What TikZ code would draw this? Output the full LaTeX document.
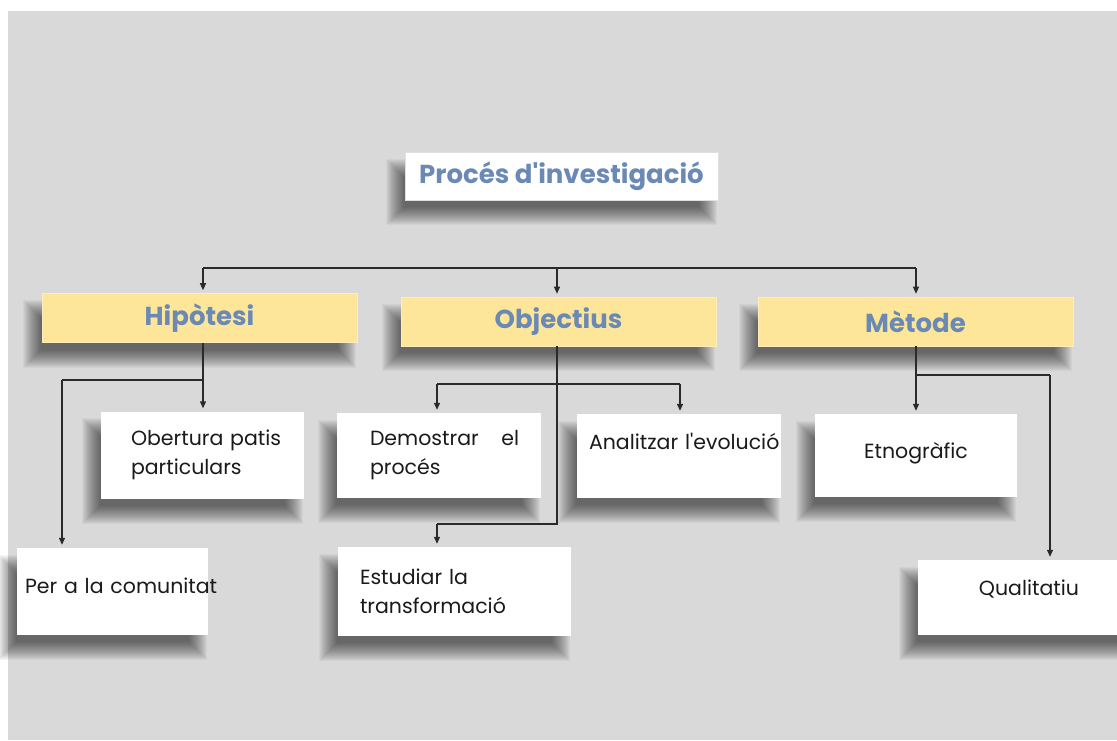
\documentclass[tikz,border=0pt]{standalone}
\usepackage{fontspec}
\setmainfont{Poppins}
\usetikzlibrary{arrows.meta}
\definecolor{bg}{HTML}{D9D9D9}
\definecolor{hd}{HTML}{FDE69A}
\definecolor{hdtxt}{HTML}{6A89B4}
\definecolor{ln}{HTML}{2A2A2A}
\definecolor{txt}{HTML}{1A1A1A}
\pgfdeclarelayer{bgfill}
\pgfdeclarelayer{shadowlayer}
\pgfsetlayers{bgfill,shadowlayer,main}
\begin{document}
\begin{tikzpicture}[x=1pt,y=-1pt,
  box/.style={fill=white, inner ysep=0pt, text=txt, font=\fontsize{20.5}{29}\selectfont, align=left},
  head/.style={fill=hd, draw=hd!70!white, line width=0.6pt, minimum width=315pt, minimum height=49pt, text=hdtxt, font=\fontsize{26}{30}\selectfont\bfseries},
  title/.style={fill=white, draw=black!12, line width=0.6pt, minimum width=313pt, minimum height=48pt, text=hdtxt, font=\fontsize{26}{30}\selectfont\bfseries},
  con/.style={draw=ln, line width=1.2pt},
  arr/.style={con, -{Triangle[length=7pt,width=6pt]}, shorten >=3pt},
  shadowpiece/.style={fill=black, opacity=0.036}
]
\useasboundingbox (0,0) rectangle (1117,740);
\begin{pgfonlayer}{bgfill}
\fill[white] (0,0) rectangle (1117,740);
\fill[bg] (8,11) rectangle (1117,740);
\end{pgfonlayer}

% title and headings
\node[title] (tit) at (561.5,176) {Procés d\textquotesingle investigació};
\node[head] (hip) at (199.5,318) {Hipòtesi};
\node[head] (obj) at (558.5,321.5) {Objectius};
\node[head] (met) at (915.5,321.5) {Mètode};

% leaves
\node[box, minimum width=203pt, minimum height=87pt, inner xsep=30pt, text width=143pt] (obert) at (202.5,455) {\mbox{Obertura patis}\\\mbox{particulars}};
\node[box, minimum width=191pt, minimum height=87pt, inner xsep=8pt, text width=175pt, text depth=11pt] (per) at (112.5,591.5) {\mbox{Per a la comunitat}};
\node[box, minimum width=204pt, minimum height=85pt, inner xsep=33pt, text width=138pt] (dem) at (439,455.5) {\mbox{Demostrar\hspace{1.1em}el}\\\mbox{procés}};
\node[box, minimum width=204pt, minimum height=84pt, inner xsep=12pt, text width=180pt] (ana) at (679,456) {\mbox{Analitzar l\textquotesingle evolució}\\\mbox{}};
\node[box, minimum width=233pt, minimum height=89pt, inner xsep=22pt, text width=189pt] (est) at (454.5,591.5) {\mbox{Estudiar la}\\\mbox{transformació}};
\node[box, align=center, minimum width=202pt, minimum height=83pt, text depth=10pt] (etn) at (916,455.5) {Etnogràfic};
\node[box, align=center, minimum width=222pt, minimum height=75pt, text depth=19pt] (qual) at (1029,597.5) {Qualitatiu};

% soft shadows
\begin{pgfonlayer}{shadowlayer}
\foreach \n in {tit,hip,obj,met,obert,per,dem,ana,est,etn,qual}{
  \foreach \i in {-9,...,9}{
    \fill[shadowpiece] ([shift={(-10+\i,16-\i)}]\n.south west) rectangle ([shift={(-10-\i,16+\i)}]\n.north east);
  }
}
\end{pgfonlayer}

% top bus
\coordinate (bL) at (203,268);
\coordinate (bM) at (557,268);
\coordinate (bR) at (916,268);
\draw[con] (bL) -- (bR);
\draw[arr] (bL) -- (bL |- hip.north);
\draw[arr] (bM) -- (bM |- obj.north);
\draw[arr] (bR) -- (bR |- met.north);

% Hipotesi branch
\coordinate (hJ) at (203,380);
\coordinate (hL) at (62,380);
\draw[con] (bL |- hip.south) -- (hJ) -- (hL);
\draw[arr] (hJ) -- (hJ |- obert.north);
\draw[arr] (hL) -- (hL |- per.north);

% Objectius branch
\coordinate (oL) at (437,384);
\coordinate (oR) at (680,384);
\coordinate (oJ2) at (557,524);
\coordinate (oL2) at (437,524);
\draw[con] (bM |- obj.south) -- (oJ2) -- (oL2);
\draw[con] (oL) -- (oR);
\draw[arr] (oL) -- (oL |- dem.north);
\draw[arr] (oR) -- (oR |- ana.north);
\draw[arr] (oL2) -- (oL2 |- est.north);

% Metode branch
\coordinate (mJ) at (916,375);
\coordinate (mR) at (1050,375);
\draw[con] (bR |- met.south) -- (mJ) -- (mR);
\draw[arr] (mJ) -- (mJ |- etn.north);
\draw[arr] (mR) -- (mR |- qual.north);
\end{tikzpicture}
\end{document}
